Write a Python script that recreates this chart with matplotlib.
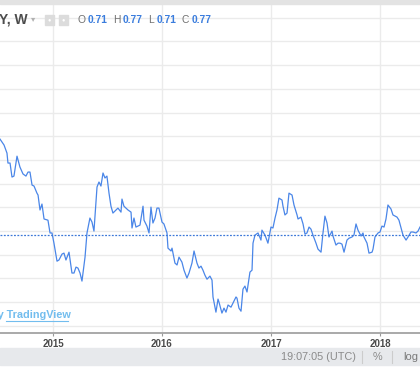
import matplotlib
matplotlib.use('agg')
import matplotlib.pyplot as plt
from matplotlib.lines import Line2D
from matplotlib.patches import Rectangle

plt.rcParams['font.family'] = ['Liberation Sans', 'DejaVu Sans']

# weekly closes, x as decimal year
years = [
    2014.514, 2014.551, 2014.578, 2014.587, 2014.606, 2014.624, 2014.642, 2014.670, 2014.697, 2014.725,
    2014.752, 2014.771, 2014.789, 2014.808, 2014.826, 2014.853, 2014.863, 2014.881, 2014.899, 2014.918,
    2014.954, 2014.973, 2014.991, 2015.009, 2015.037, 2015.055, 2015.083, 2015.101, 2015.119, 2015.147,
    2015.174, 2015.193, 2015.211, 2015.229, 2015.248, 2015.266, 2015.294, 2015.312, 2015.339, 2015.358,
    2015.376, 2015.404, 2015.422, 2015.440, 2015.459, 2015.477, 2015.495, 2015.514, 2015.532, 2015.550,
    2015.578, 2015.596, 2015.624, 2015.633, 2015.651, 2015.688, 2015.716, 2015.725, 2015.743, 2015.761,
    2015.780, 2015.798, 2015.826, 2015.835, 2015.862, 2015.881, 2015.899, 2015.917, 2015.936, 2015.954,
    2015.972, 2016.000, 2016.018, 2016.046, 2016.055, 2016.083, 2016.092, 2016.119, 2016.138, 2016.156,
    2016.183, 2016.202, 2016.229, 2016.248, 2016.275, 2016.294, 2016.321, 2016.339,
    2016.358, 2016.376, 2016.394, 2016.413, 2016.440, 2016.459, 2016.468, 2016.495, 2016.514, 2016.523,
    2016.550, 2016.569, 2016.587, 2016.606, 2016.633, 2016.651, 2016.679, 2016.688, 2016.706, 2016.725,
    2016.743, 2016.761, 2016.780, 2016.807, 2016.826, 2016.835, 2016.853, 2016.881, 2016.908, 2016.917,
    2016.945, 2016.972, 2017.000, 2017.018, 2017.037, 2017.055, 2017.073, 2017.101, 2017.110, 2017.128,
    2017.147, 2017.165, 2017.193, 2017.211, 2017.239, 2017.248, 2017.275, 2017.294, 2017.312, 2017.330,
    2017.349, 2017.367, 2017.385, 2017.413, 2017.431, 2017.459, 2017.477, 2017.495, 2017.514, 2017.532,
    2017.560, 2017.569, 2017.596, 2017.615, 2017.633, 2017.651, 2017.670, 2017.697, 2017.716, 2017.743,
    2017.761, 2017.780, 2017.798, 2017.826, 2017.844, 2017.853, 2017.881, 2017.899, 2017.927, 2017.936,
    2017.954, 2017.982, 2018.000, 2018.018, 2018.037, 2018.055, 2018.073, 2018.101, 2018.119, 2018.156,
    2018.174, 2018.193, 2018.211, 2018.239, 2018.257, 2018.284, 2018.303, 2018.330, 2018.349, 2018.367,
]
closes = [
    0.8088, 0.8063, 0.8029, 0.7987, 0.7987, 0.7928, 0.7932, 0.8016, 0.7970, 0.7941,
    0.7932, 0.7949, 0.7949, 0.7894, 0.7890, 0.7860, 0.7852, 0.7789, 0.7814, 0.7751,
    0.7746, 0.7692, 0.7692, 0.7649, 0.7573, 0.7578, 0.7603, 0.7607, 0.7578, 0.7611,
    0.7523, 0.7523, 0.7548, 0.7544, 0.7523, 0.7489, 0.7590, 0.7692, 0.7755, 0.7738,
    0.7700, 0.7886, 0.7907, 0.7890, 0.7945, 0.7924, 0.7932, 0.7860, 0.7805, 0.7776,
    0.7789, 0.7797, 0.7780, 0.7835, 0.7805, 0.7789, 0.7780, 0.7713, 0.7755, 0.7717,
    0.7721, 0.7725, 0.7805, 0.7746, 0.7721, 0.7692, 0.7801, 0.7734, 0.7755, 0.7797,
    0.7797, 0.7738, 0.7730, 0.7692, 0.7628, 0.7616, 0.7628, 0.7565, 0.7557, 0.7590,
    0.7569, 0.7535, 0.7502, 0.7523, 0.7565, 0.7616, 0.7565, 0.7544,
    0.7552, 0.7535, 0.7514, 0.7497, 0.7510, 0.7493, 0.7422, 0.7358, 0.7413, 0.7400,
    0.7354, 0.7375, 0.7358, 0.7388, 0.7379, 0.7396, 0.7422, 0.7417, 0.7375, 0.7362,
    0.7455, 0.7468, 0.7443, 0.7527, 0.7535, 0.7649, 0.7683, 0.7692, 0.7662, 0.7704,
    0.7683, 0.7649, 0.7717, 0.7713, 0.7755, 0.7789, 0.7839, 0.7831, 0.7805, 0.7768,
    0.7776, 0.7860, 0.7852, 0.7810, 0.7768, 0.7751, 0.7759, 0.7730, 0.7687, 0.7692,
    0.7717, 0.7708, 0.7683, 0.7649, 0.7624, 0.7611, 0.7692, 0.7763, 0.7734, 0.7675,
    0.7700, 0.7679, 0.7641, 0.7649, 0.7649, 0.7645, 0.7611, 0.7662, 0.7670, 0.7675,
    0.7683, 0.7730, 0.7704, 0.7679, 0.7692, 0.7675, 0.7649, 0.7607, 0.7611, 0.7624,
    0.7675, 0.7692, 0.7696, 0.7721, 0.7717, 0.7751, 0.7810, 0.7793, 0.7768, 0.7759,
    0.7746, 0.7713, 0.7683, 0.7662, 0.7675, 0.7696, 0.7696, 0.7692, 0.7700, 0.7717,
]
last_close = 0.7683
price_grid = [0.73, 0.74, 0.75, 0.76, 0.77, 0.78, 0.79, 0.80, 0.81, 0.82, 0.83, 0.84, 0.85, 0.86]
year_ticks = [2015, 2016, 2017, 2018]
ohlc_labels = ["O", "H", "L", "C"]
ohlc_values = ["0.71", "0.77", "0.71", "0.77"]

W, H = 420, 367
line_blue = '#4a86e8'


def fx(px):
    return px / W


def fy(py):
    return 1 - py / H


fig = plt.figure(figsize=(4.2, 3.67), dpi=100)
fig.patch.set_facecolor('white')

ax = fig.add_axes([0, fy(333), 1, (333 - 4) / H])
ax.set_xlim(2014.514, 2018.367)
ax.set_ylim(0.7270, 0.8658)
ax.set_xticks(year_ticks)
ax.set_xticklabels([str(y) for y in year_ticks])
ax.set_yticks(price_grid)
ax.set_yticklabels([])
ax.tick_params(axis='y', length=0)
ax.tick_params(axis='x', length=2.5, width=0.8, color='#999999', pad=1.5,
               labelsize=7, labelcolor='#4a4a4a')
for lbl in ax.get_xticklabels():
    lbl.set_fontweight('bold')
ax.grid(color='#ebebeb', lw=1)
ax.set_axisbelow(True)
for s in ['top', 'left', 'right']:
    ax.spines[s].set_visible(False)
ax.spines['bottom'].set_color('#a3a3a3')
ax.spines['bottom'].set_linewidth(1.3)

ax.plot(years, closes, color=line_blue, lw=0.9)
ax.axhline(last_close, color='#3d78d8', lw=0.9, linestyle=(0, (1.5, 1.2)))

# top strip
fig.patches.append(Rectangle((0, fy(4)), 1, 4 / H, transform=fig.transFigure,
                             color='#e3e3e3', zorder=0))

# legend header
fig.text(fx(-1), fy(20), "Y, W", fontsize=10, fontweight='bold', color='#4d4d4d', va='center')
fig.text(fx(31), fy(20), "\u25be", fontsize=6, color='#b0b0b0', va='center')
for x0 in [45, 59]:
    fig.patches.append(Rectangle((fx(x0), fy(25)), 9 / W, 10 / H, transform=fig.transFigure,
                                 color='#dcdcdc', zorder=1))
    fig.text(fx(x0 + 4.5), fy(20), "\u25cf", fontsize=4, color='white', ha='center', va='center')
lbl_x = [77, 113, 148, 181]
val_x = [88, 123, 157, 192]
for lab, val, lx, vx in zip(ohlc_labels, ohlc_values, lbl_x, val_x):
    fig.text(fx(lx), fy(20), lab, fontsize=7.4, color='#707070', va='center')
    fig.text(fx(vx), fy(20), val, fontsize=7.4, fontweight='bold', color='#3b7ddd', va='center')

# watermark
fig.text(fx(-9), fy(315), "by TradingView", fontsize=7.8, fontweight='bold', color='#72bdee', va='center')
fig.add_artist(Line2D([fx(6), fx(68)], [fy(320.5), fy(320.5)], color='#72bdee', lw=0.8))

# bottom toolbar
fig.patches.append(Rectangle((0, fy(365)), 1, 17 / H, transform=fig.transFigure,
                             color='#e7e9ec', zorder=0))
fig.text(fx(281), fy(357), "19:07:05 (UTC)", fontsize=7.8, color='#8a8a8a', va='center')
fig.text(fx(373), fy(357), "%", fontsize=7.8, color='#8a8a8a', va='center')
fig.text(fx(403), fy(357), "log", fontsize=8, color='#7a7a7a', va='center')
for sx in [362, 392]:
    fig.add_artist(Line2D([fx(sx), fx(sx)], [fy(351), fy(363)], color='#cccccc', lw=0.8))

fig.savefig("out.png", dpi=100)
